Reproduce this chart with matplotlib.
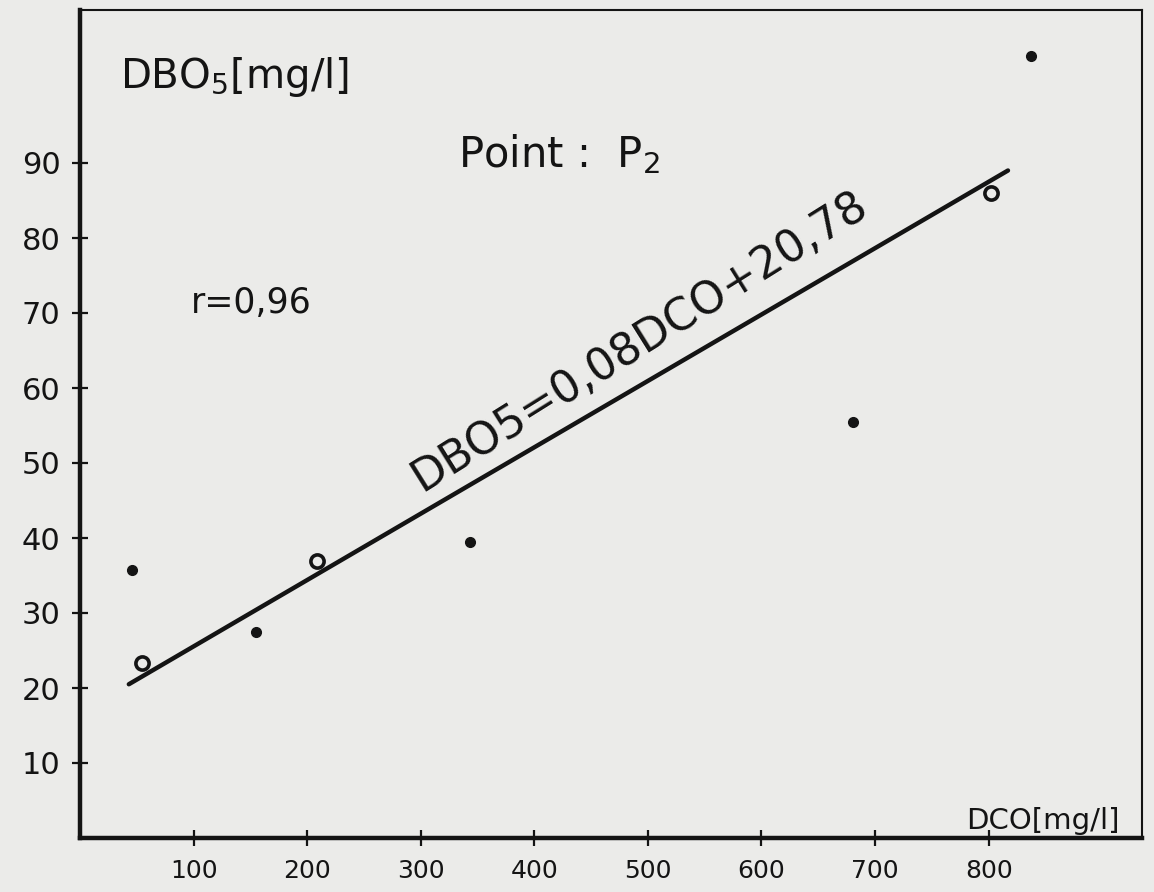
import matplotlib
matplotlib.use("Agg")
import matplotlib.pyplot as plt
import numpy as np

# ---- data ----
dco_filled = [46, 155, 343, 681, 837]
dbo_filled = [35.7, 27.5, 39.5, 55.5, 104.3]
dco_open = [55, 209, 802]
dbo_open = [23.3, 36.9, 86.0]
fit_x = [43, 817]
fit_y = [20.5, 89.0]
x_ticks = [100, 200, 300, 400, 500, 600, 700, 800]
x_labels = ["100", "200", "300", "400", "500", "600", "700", "800"]
y_ticks = [10, 20, 30, 40, 50, 60, 70, 80, 90]
y_labels = ["10", "20", "30", "40", "50", "60", "70", "80", "90"]

plt.rcParams['font.family'] = ['DejaVu Sans']
plt.rcParams['mathtext.default'] = 'regular'
BG = '#ebebe9'
INK = '#141414'

fig = plt.figure(figsize=(11.54, 8.92), dpi=100, facecolor=BG)
ax = fig.add_axes([80/1154, 54/892, (1142-80)/1154, (838-10)/892])
ax.set_facecolor(BG)
ax.set_xlim(0, 935)
ax.set_ylim(0, 110.4)

for s in ['left', 'bottom']:
    ax.spines[s].set_linewidth(3.2)
for s in ['top', 'right']:
    ax.spines[s].set_linewidth(1.5)
for s in ax.spines.values():
    s.set_color(INK)

ax.set_xticks(x_ticks)
ax.set_xticklabels(x_labels, fontsize=18, color=INK)
ax.set_yticks(y_ticks)
ax.set_yticklabels(y_labels, fontsize=22, color=INK)
ax.tick_params(axis='both', direction='inout', length=12, width=1.6, color=INK)
ax.tick_params(axis='x', pad=9)
ax.tick_params(axis='y', pad=8)

ax.plot(fit_x, fit_y, color=INK, lw=3.2, solid_capstyle='round')
ax.plot(dco_filled, dbo_filled, 'o', ms=7, color=INK, mec=INK)
ax.plot(dco_open, dbo_open, 'o', ms=9.5, mfc='none', mec=INK, mew=2.6)

ax.text(0.038, 0.906, 'DBO$_5$[mg/l]', transform=ax.transAxes, fontsize=29,
        color=INK, va='baseline')
ax.text(0.356, 0.81, 'Point :  P$_2$', transform=ax.transAxes, fontsize=30,
        color=INK, va='baseline')
ax.text(0.104, 0.634, 'r=0,96', transform=ax.transAxes, fontsize=25,
        color=INK, va='baseline')
ax.text(0.979, 0.011, 'DCO[mg/l]', transform=ax.transAxes, fontsize=21,
        color=INK, va='baseline', ha='right')
ax.text(0.322, 0.418, 'DBO5=0,08DCO+20,78', transform=ax.transAxes, fontsize=32,
        color=INK, rotation=32, rotation_mode='anchor',
        va='baseline', ha='left')

fig.savefig('out.png', dpi=100, facecolor=BG)
